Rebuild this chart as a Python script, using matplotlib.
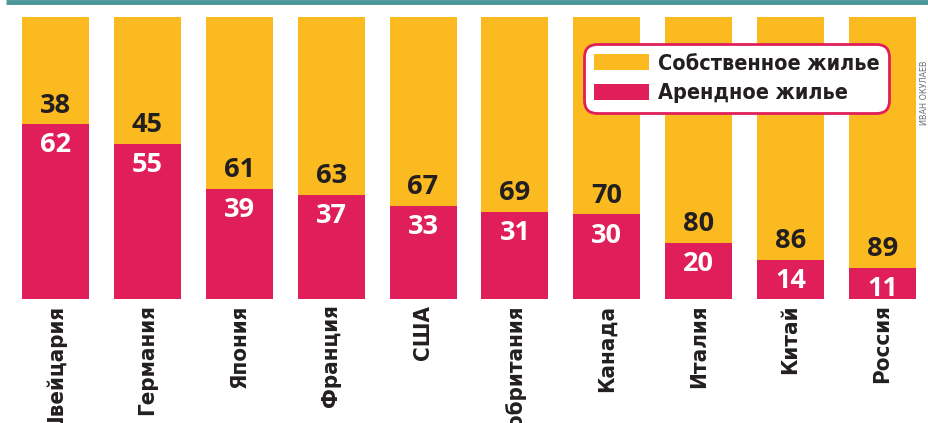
import matplotlib.pyplot as plt
from matplotlib.patches import Patch

# Доля собственного и арендного жилья, %
countries = ["Швейцария", "Германия", "Япония", "Франция", "США",
             "Великобритания", "Канада", "Италия", "Китай", "Россия"]
owned = [38, 45, 61, 63, 67, 69, 70, 80, 86, 89]
rented = [62, 55, 39, 37, 33, 31, 30, 20, 14, 11]

yellow = "#FBBA1F"
magenta = "#E01F5A"
teal = "#4A9698"
dark = "#231F20"

narrow = "DejaVu Sans"
num_font = ["Open Sans", "DejaVu Sans"]

fig = plt.figure(figsize=(9.29, 4.23), dpi=100)
# bar area: 0..100 between pixel rows 299 and 17
ax = fig.add_axes([0, (423 - 299) / 423, 1, 282 / 423])

step = 91.89
x = list(range(len(countries)))
ax.bar(x, rented, width=67 / step, color=magenta, linewidth=0)
ax.bar(x, owned, bottom=rented, width=67 / step, color=yellow, linewidth=0)
ax.set_xlim(-55.5 / step, (929 - 55.5) / step)
ax.set_ylim(0, 100)
ax.axis("off")

for i in x:
    ax.annotate(str(owned[i]), (i, rented[i]), xytext=(0, 4), textcoords="offset points",
                ha="center", va="bottom", fontsize=19.5, fontweight="bold",
                color=dark, family=num_font)
    ax.annotate(str(rented[i]), (i, rented[i]), xytext=(0, -6), textcoords="offset points",
                ha="center", va="top", fontsize=19.5, fontweight="bold",
                color="white", family=num_font)
    ax.annotate(countries[i], (i, 0), xytext=(0, -4), textcoords="offset points",
                ha="center", va="top", rotation=90, fontsize=16, fontweight="bold",
                fontstretch="condensed", color=dark, family=narrow,
                annotation_clip=False)

# teal rule on top
fig.add_artist(plt.Line2D([6 / 929, 1], [1 - 2 / 423, 1 - 2 / 423], color=teal,
                          linewidth=3.5, solid_capstyle="butt"))

handles = [Patch(facecolor=yellow, label="Собственное жилье"),
           Patch(facecolor=magenta, label="Арендное жилье")]
leg = ax.legend(handles=handles, loc="upper left",
                bbox_to_anchor=(584 / 929, 1 - 44 / 423), bbox_transform=fig.transFigure,
                prop={"family": narrow, "weight": "bold", "stretch": "condensed", "size": 15.5},
                handlelength=2.55, handleheight=0.8, handletextpad=0.42,
                labelspacing=0.45, borderpad=0.45, borderaxespad=0,
                fancybox=True, framealpha=1, edgecolor=magenta)
leg.get_frame().set_linewidth(2)
leg.get_frame().set_boxstyle("round", pad=0, rounding_size=0.6)
for t in leg.get_texts():
    t.set_color(dark)
    t.set_fontweight("bold")

fig.text(925 / 929, 1 - 125 / 423, "ИВАН ОКУЛАЕВ", rotation=90, ha="center", va="bottom",
         fontsize=6.5, fontstretch="condensed", color="#6d6e70", family=narrow)

fig.savefig("out.png", dpi=100)
